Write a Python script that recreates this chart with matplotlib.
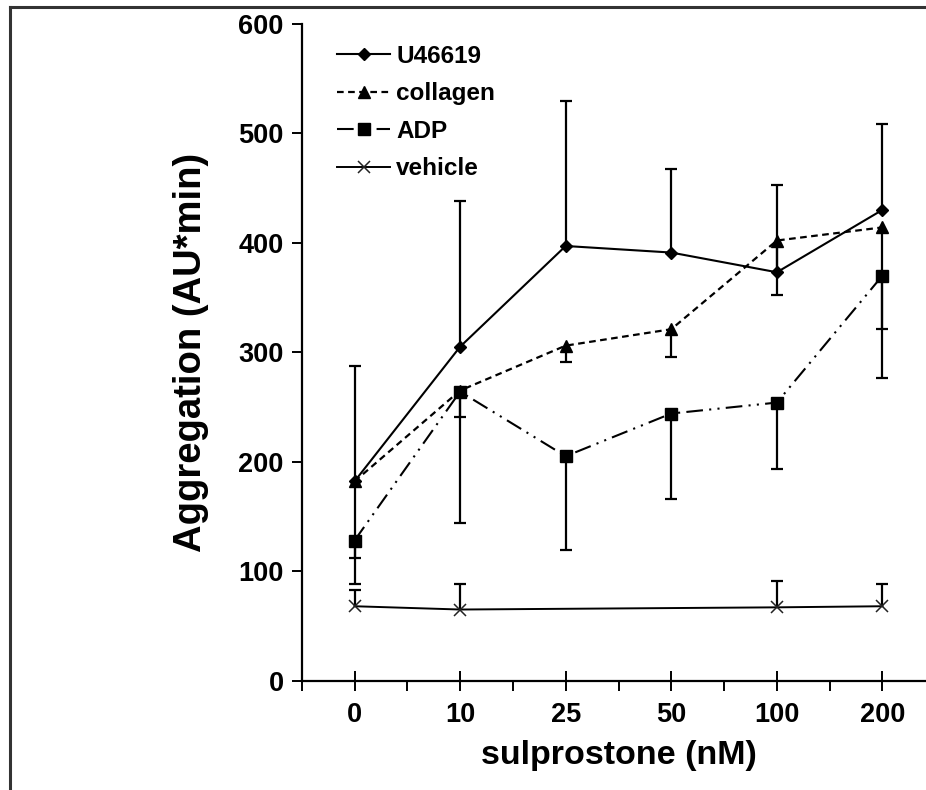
import matplotlib
matplotlib.use("Agg")
import matplotlib.pyplot as plt
from matplotlib.lines import Line2D
import numpy as np

plt.rcParams['font.family'] = ['Liberation Sans', 'DejaVu Sans']
plt.rcParams['font.weight'] = 'bold'

categories = ["0", "10", "25", "50", "100", "200"]

u46619 = [182, 305, 397, 391, 373, 430]
u46619_err_up = [105, 133, 132, 76, 80, 78]

collagen = [182, 265, 306, 321, 402, 414]
collagen_err_down = [70, 24, 15, 25, 50, 93]

adp = [128, 264, 205, 244, 254, 370]
adp_err_down = [40, 120, 86, 78, 61, 94]

vehicle_idx = [0, 1, 4, 5]
vehicle = [68, 65, 67, 68]
vehicle_err_up = [15, 23, 24, 20]

yticks = [0, 100, 200, 300, 400, 500, 600]

W, H = 926, 790
fig = plt.figure(figsize=(W / 100, H / 100), dpi=100)
ax = fig.add_axes([301.7 / W, 1 - 680.7 / H, 6 * 105.6 / W, (680.7 - 23.7) / H])

x = np.arange(len(categories))


def errbars(xs, ys, errs, sign):
    xs = np.asarray(xs, float)
    ys = np.asarray(ys, float)
    ends = ys + sign * np.asarray(errs, float)
    ax.vlines(xs, ys, ends, colors='black', lw=1.6, zorder=2)
    ax.plot(xs, ends, ls='none', marker='_', ms=9, mew=1.6, color='black', zorder=2)


errbars(x, u46619, u46619_err_up, 1)
errbars(x, collagen, collagen_err_down, -1)
errbars(x, adp, adp_err_down, -1)
errbars(vehicle_idx, vehicle, vehicle_err_up, 1)

ax.plot(x, u46619, color='black', lw=1.5, marker='D', ms=6.5, label='U46619', zorder=3)
ax.plot(x, collagen, color='black', lw=1.6, ls=(0, (3, 2)), marker='^', ms=8, label='collagen', zorder=3)
ax.plot(x, adp, color='black', lw=1.5, ls=(0, (8, 3, 1, 3, 1, 3)), marker='s', ms=8.5, label='ADP', zorder=3)
ax.plot(vehicle_idx, vehicle, color='black', lw=1.4, marker='x', ms=8, mew=1.1,
        mec='#222222', label='vehicle', zorder=3)

ax.set_xlim(-0.5, 5.5)
ax.set_ylim(0, 600)
ax.set_yticks(yticks)
ax.set_xticks(x)
ax.set_xticklabels(categories)
ax.set_xticks(np.arange(-0.5, 5.6, 1.0), minor=True)

for s in ['top', 'right']:
    ax.spines[s].set_visible(False)
for s in ['left', 'bottom']:
    ax.spines[s].set_linewidth(1.6)

ax.tick_params(axis='y', direction='out', length=7, width=1.4, labelsize=19.5, pad=6)
ax.tick_params(axis='x', which='major', direction='inout', length=14, width=1.4, labelsize=19.5, pad=8)
ax.tick_params(axis='x', which='minor', direction='out', length=7, width=1.4)
for lbl in ax.get_xticklabels() + ax.get_yticklabels():
    lbl.set_fontweight('bold')

ax.set_ylabel('Aggregation (AU*min)', fontsize=27.5, fontweight='bold', labelpad=21)
ax.set_xlabel('sulprostone (nM)', fontsize=24.5, fontweight='bold', labelpad=9)

leg = ax.legend(loc='upper left', bbox_to_anchor=(0.04, 0.983), frameon=False,
                prop={'size': 17.5, 'weight': 'bold'}, handlelength=2.2,
                handletextpad=0.25, labelspacing=0.6, borderaxespad=0.0)

# figure frame (top and left border)
fig.add_artist(Line2D([10 / W, 10 / W], [0, 1 - 7 / H], transform=fig.transFigure,
                      color='#333333', lw=2.2))
fig.add_artist(Line2D([10 / W, 1], [1 - 7 / H, 1 - 7 / H], transform=fig.transFigure,
                      color='#333333', lw=2.2))

fig.savefig('out.png', dpi=100)
